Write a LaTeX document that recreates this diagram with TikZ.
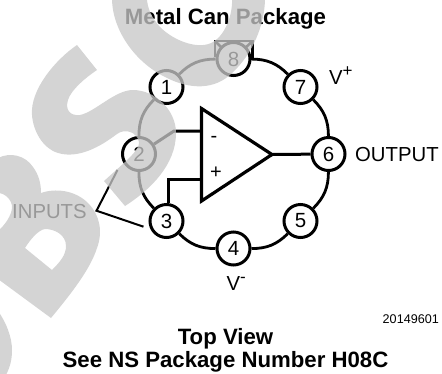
\documentclass[tikz,border=0pt]{standalone}
\usepackage{fontspec}
\setmainfont{Liberation Sans}
\begin{document}
\begin{tikzpicture}[x=1pt,y=-1pt,
  pin/.style={circle,draw=black,fill=white,line width=3pt,minimum size=33pt,inner sep=0pt,font=\fontsize{20.5}{20}\selectfont},
  wire/.style={line width=3pt,line join=miter},
  ringarc/.style={line width=2.8pt},
  lead/.style={line width=2pt},
  lab/.style={inner sep=0pt,anchor=base west,font=\fontsize{20.3}{20}\selectfont},
  title/.style={inner sep=0pt,anchor=base,font=\bfseries\fontsize{22.2}{22}\selectfont},
  wm/.style={fill=black!22,fill opacity=.77,draw=none,even odd rule}]
\useasboundingbox (0,0) rectangle (442,373);
% package tab
\draw[line width=2.6pt,line join=miter] (215,57) -- (215,41) -- (252.5,41) -- (252.5,60);
\draw[line width=2.6pt] (216,42) -- (227,53) (251.5,42) -- (240,53);
% pins
\node[pin] (p8) at (233.5,59) {8};
\node[pin] (p1) at (166.5,87) {1};
\node[pin] (p2) at (139,154) {2};
\node[pin] (p3) at (166.5,221) {3};
\node[pin] (p4) at (233.5,248.5) {4};
\node[pin] (p5) at (300.5,221) {5};
\node[pin] (p6) at (328.5,154) {6};
\node[pin] (p7) at (300.5,87) {7};
% ring
\foreach \a/\b in {p8/p7,p7/p6,p6/p5,p5/p4,p4/p3,p3/p2,p2/p1,p1/p8}
  \draw[ringarc] (\a) to[bend left=22.5] (\b);
% op amp
\coordinate (ta) at (201.5,108.5);
\coordinate (tb) at (201.5,201);
\coordinate (tc) at (272,154.5);
\coordinate (inm) at (201.5,131);
\coordinate (inp) at (201.5,179);
\coordinate (kink1) at (174,131);
\coordinate (kink2) at (168,179);
\draw[line width=3.2pt,line join=miter] (ta) -- (tb) -- (tc) -- cycle;
\draw[wire] (inm) -- (kink1) -- (p2);
\draw[wire] (inp) -- (kink2) -- (kink2 |- p3.north);
\draw[wire] (tc) -- (p6);
\node[inner sep=0pt,anchor=base,font=\fontsize{20}{20}\selectfont] (mn) at (214,142) {-};
\node[inner sep=0pt,anchor=base,font=\fontsize{20}{20}\selectfont] (pl) at (216,178.7) {+};
% labels
\node[lab] (inlab) at (12,218.5) {INPUTS};
\node[lab] (outlab) at (355,161) {OUTPUT};
\node[lab] (vp) at (329,84) {V\raisebox{7.5pt}{\fontsize{17}{17}\selectfont +}};
\node[lab] (vm) at (226.5,290) {V\raisebox{7.5pt}{\fontsize{17}{17}\selectfont -}};
\coordinate (ia) at (117.5,170);
\coordinate (ib) at (96.5,210.7);
\coordinate (ic) at (143.5,226.7);
\draw[lead,line join=miter] (ia) -- (ib) -- (ic);
\node[title] (t1) at (225.5,24) {Metal Can Package};
\node[title] (t2) at (225.5,344) {Top View};
\node[title] (t3) at (225.5,367.5) {See NS Package Number H08C};
\node[inner sep=0pt,anchor=base east,font=\fontsize{12.6}{13}\selectfont] (num) at (439,323.7) {20149601};
% watermark
\begin{scope}
\clip (0,0) rectangle (442,373);
% O
\path[wm] (112,-2) .. controls (112,30) and (135,62) .. (165,77)
  .. controls (190,90) and (215,90) .. (232,73)
  .. controls (252,55) and (265,25) .. (265,-2)
  -- (232,-2) .. controls (233,15) and (225,35) .. (213,42)
  .. controls (200,50) and (175,42) .. (160,27)
  .. controls (152,18) and (147,8) .. (147,-2) -- cycle;
% S
\path[wm] (77,45) .. controls (55,60) and (30,90) .. (32,115)
  .. controls (33,130) and (42,148) .. (58,153)
  .. controls (78,159) and (100,147) .. (117,134)
  .. controls (125,128) and (137,132) .. (139,142)
  .. controls (140,150) and (125,162) .. (104,181)
  -- (125,206)
  .. controls (150,190) and (176,165) .. (176,133)
  .. controls (176,110) and (155,90) .. (133,90)
  .. controls (115,90) and (95,112) .. (80,115)
  .. controls (70,116) and (65,110) .. (68,100)
  .. controls (71,90) and (85,78) .. (97,70) -- cycle;
% B
\path[wm] (-2,158) .. controls (10,152) and (25,155) .. (33,167)
  .. controls (39,175) and (41,184) .. (41,193)
  .. controls (55,188) and (75,190) .. (88,203)
  .. controls (100,215) and (103,232) .. (97,248)
  .. controls (90,270) and (70,295) .. (51,318)
  -- (-2,279) -- cycle
  (25,248) -- (52,270) .. controls (60,262) and (66,255) .. (66,246)
  .. controls (66,235) and (55,229) .. (45,229)
  .. controls (38,230) and (30,240) .. (25,248) -- cycle
  (-2,193) .. controls (5,193) and (12,200) .. (12,207)
  .. controls (12,215) and (5,225) .. (-2,231) -- cycle;
% next letter
\path[wm] (-2,311) .. controls (6,322) and (12,337) .. (12,350)
  .. controls (12,360) and (10,367) .. (6,375) -- (-2,375) -- cycle;
\end{scope}
\end{tikzpicture}
\end{document}
